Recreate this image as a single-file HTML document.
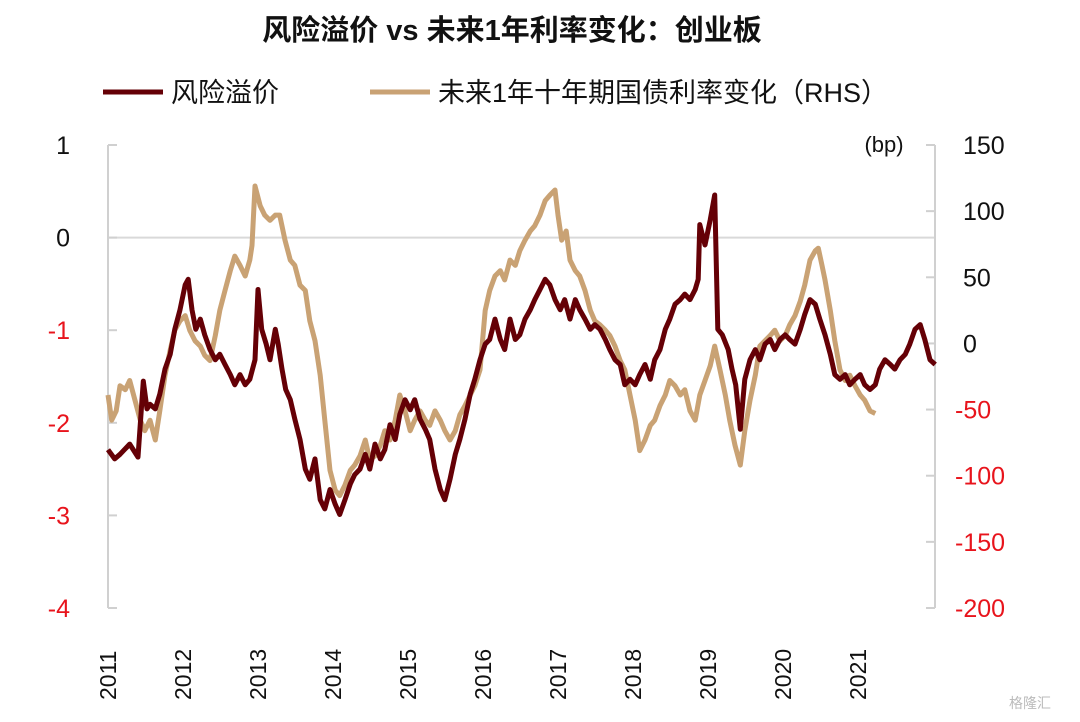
<!DOCTYPE html>
<html><head><meta charset="utf-8">
<style>
html,body{margin:0;padding:0;background:#fff;}
body{width:1080px;height:717px;overflow:hidden;font-family:"Liberation Sans","Noto Sans CJK SC",sans-serif;}
svg text{font-family:"Liberation Sans","Noto Sans CJK SC",sans-serif;}
</style></head>
<body>
<svg id="chart" width="1080" height="717" viewBox="0 0 1080 717" xmlns="http://www.w3.org/2000/svg">
<text x="512" y="40" text-anchor="middle" font-size="29" font-weight="bold" fill="#111">风险溢价 vs 未来1年利率变化：创业板</text>
<g>
<line x1="103" y1="92" x2="163" y2="92" stroke="#650006" stroke-width="5"/>
<text x="171" y="102" font-size="27" fill="#111">风险溢价</text>
<line x1="370" y1="92" x2="430" y2="92" stroke="#C9A274" stroke-width="5"/>
<text x="438" y="102" font-size="27" fill="#111">未来1年十年期国债利率变化（RHS）</text>
</g>
<text x="884" y="152" text-anchor="middle" font-size="22" fill="#111">(bp)</text>
<g id="axes"></g>
<g id="series"></g>
<text x="1030" y="708" text-anchor="middle" font-size="14" fill="#bbb">格隆汇</text>
</svg>
<script>
const leftTicks=[1,0,-1,-2,-3,-4];
const rightTicks=[150,100,50,0,-50,-100,-150,-200];
const yearLabels=[2011,2012,2013,2014,2015,2016,2017,2018,2019,2020,2021];
const riskDates=[2011.00,2011.09,2011.16,2011.29,2011.40,2011.47,2011.52,2011.56,2011.63,2011.69,2011.76,2011.83,2011.89,2011.96,2012.03,2012.07,2012.12,2012.17,2012.23,2012.29,2012.36,2012.43,2012.49,2012.56,2012.63,2012.69,2012.76,2012.83,2012.89,2012.96,2013.00,2013.05,2013.11,2013.16,2013.23,2013.27,2013.32,2013.37,2013.43,2013.49,2013.56,2013.63,2013.69,2013.76,2013.83,2013.89,2013.96,2014.03,2014.09,2014.16,2014.23,2014.29,2014.36,2014.43,2014.49,2014.56,2014.63,2014.69,2014.76,2014.83,2014.89,2014.96,2015.03,2015.09,2015.16,2015.23,2015.29,2015.36,2015.43,2015.49,2015.56,2015.63,2015.69,2015.76,2015.83,2015.89,2015.96,2016.03,2016.09,2016.16,2016.23,2016.29,2016.36,2016.43,2016.49,2016.56,2016.63,2016.69,2016.76,2016.83,2016.89,2016.96,2017.03,2017.09,2017.16,2017.23,2017.29,2017.36,2017.43,2017.49,2017.56,2017.63,2017.69,2017.76,2017.83,2017.89,2017.96,2018.03,2018.09,2018.16,2018.23,2018.29,2018.36,2018.43,2018.49,2018.56,2018.63,2018.69,2018.76,2018.83,2018.87,2018.89,2018.96,2019.03,2019.09,2019.13,2019.19,2019.27,2019.32,2019.37,2019.43,2019.49,2019.56,2019.63,2019.69,2019.76,2019.83,2019.89,2019.96,2020.03,2020.09,2020.16,2020.23,2020.29,2020.36,2020.43,2020.49,2020.56,2020.63,2020.69,2020.76,2020.83,2020.89,2020.96,2021.03,2021.09,2021.16,2021.23,2021.29,2021.36,2021.43,2021.49,2021.56,2021.63,2021.69,2021.76,2021.83,2021.89,2021.96,2022.03];
const riskValues=[-2.29,-2.39,-2.34,-2.23,-2.37,-1.55,-1.85,-1.80,-1.85,-1.69,-1.42,-1.26,-0.99,-0.78,-0.51,-0.45,-0.78,-0.99,-0.88,-1.05,-1.21,-1.32,-1.26,-1.37,-1.48,-1.59,-1.48,-1.59,-1.53,-1.32,-0.56,-0.99,-1.15,-1.32,-0.99,-1.15,-1.42,-1.64,-1.75,-1.96,-2.18,-2.50,-2.61,-2.39,-2.83,-2.93,-2.72,-2.88,-2.99,-2.83,-2.66,-2.56,-2.50,-2.34,-2.50,-2.23,-2.39,-2.29,-2.02,-2.18,-1.91,-1.75,-1.86,-1.75,-1.96,-2.07,-2.18,-2.50,-2.72,-2.83,-2.61,-2.34,-2.18,-1.96,-1.69,-1.53,-1.32,-1.15,-1.10,-0.88,-1.10,-1.21,-0.88,-1.10,-1.05,-0.88,-0.78,-0.67,-0.56,-0.45,-0.51,-0.67,-0.78,-0.67,-0.88,-0.67,-0.78,-0.88,-0.99,-0.94,-0.99,-1.10,-1.21,-1.32,-1.37,-1.59,-1.53,-1.59,-1.48,-1.37,-1.53,-1.32,-1.21,-0.99,-0.88,-0.72,-0.67,-0.61,-0.67,-0.56,-0.45,0.14,-0.08,0.19,0.46,-0.99,-1.05,-1.21,-1.42,-1.59,-2.07,-1.53,-1.32,-1.21,-1.32,-1.15,-1.10,-1.21,-1.10,-1.05,-1.10,-1.15,-0.99,-0.83,-0.67,-0.72,-0.88,-1.05,-1.26,-1.48,-1.53,-1.48,-1.59,-1.53,-1.48,-1.59,-1.64,-1.59,-1.42,-1.32,-1.37,-1.42,-1.32,-1.26,-1.15,-0.99,-0.94,-1.10,-1.32,-1.37];
const yieldDates=[2011.00,2011.05,2011.11,2011.16,2011.23,2011.29,2011.36,2011.43,2011.49,2011.56,2011.63,2011.69,2011.76,2011.83,2011.89,2011.96,2012.03,2012.09,2012.16,2012.23,2012.29,2012.36,2012.43,2012.49,2012.56,2012.63,2012.69,2012.76,2012.83,2012.89,2012.92,2012.96,2013.03,2013.09,2013.16,2013.23,2013.29,2013.36,2013.43,2013.49,2013.56,2013.63,2013.69,2013.76,2013.83,2013.89,2013.96,2014.03,2014.09,2014.16,2014.23,2014.29,2014.36,2014.43,2014.49,2014.56,2014.63,2014.69,2014.76,2014.83,2014.89,2014.96,2015.03,2015.09,2015.16,2015.23,2015.29,2015.36,2015.43,2015.49,2015.56,2015.63,2015.69,2015.76,2015.83,2015.89,2015.96,2016.03,2016.09,2016.16,2016.23,2016.29,2016.36,2016.43,2016.49,2016.56,2016.63,2016.69,2016.76,2016.83,2016.89,2016.96,2017.00,2017.05,2017.11,2017.16,2017.23,2017.29,2017.36,2017.43,2017.49,2017.56,2017.63,2017.69,2017.76,2017.83,2017.89,2017.96,2018.03,2018.09,2018.16,2018.23,2018.29,2018.36,2018.43,2018.49,2018.56,2018.63,2018.69,2018.76,2018.83,2018.89,2018.96,2019.03,2019.09,2019.16,2019.23,2019.29,2019.36,2019.43,2019.49,2019.56,2019.63,2019.69,2019.76,2019.83,2019.89,2019.96,2020.03,2020.09,2020.16,2020.23,2020.29,2020.36,2020.43,2020.47,2020.52,2020.56,2020.63,2020.69,2020.76,2020.83,2020.89,2020.96,2021.03,2021.09,2021.16,2021.23];
const yieldValues=[-39,-58,-51,-32,-35,-28,-43,-58,-66,-58,-73,-51,-24,-5,10,17,21,10,2,-2,-9,-13,6,25,40,55,66,59,51,63,74,119,104,97,93,97,97,78,63,59,44,40,17,2,-24,-58,-96,-111,-115,-107,-96,-92,-85,-73,-88,-85,-77,-66,-73,-58,-39,-51,-66,-58,-51,-58,-62,-51,-58,-66,-73,-66,-54,-47,-39,-32,-20,25,40,51,55,48,63,59,70,78,85,89,97,108,112,116,97,78,85,63,55,51,40,25,17,14,10,6,-2,-13,-20,-39,-58,-81,-73,-62,-58,-47,-39,-28,-32,-39,-35,-51,-58,-39,-28,-17,-2,-20,-39,-58,-77,-92,-66,-43,-24,-2,2,6,10,2,6,14,21,32,44,63,70,72,59,48,25,2,-20,-28,-24,-32,-39,-43,-51,-53];

const NS='http://www.w3.org/2000/svg';
const X0=108,X1=935,T0=2011,PXY=75;
const YT=145,YB=608;
function xScale(d){return X0+(d-T0)*PXY;}
function yLeft(v){return YT+(1-v)/5*(YB-YT);}
function yRight(v){return YT+(150-v)/350*(YB-YT);}
function mk(tag,attrs,parent){const e=document.createElementNS(NS,tag);for(const k in attrs)e.setAttribute(k,attrs[k]);parent.appendChild(e);return e;}
const axes=document.getElementById('axes');
const series=document.getElementById('series');

const grid=mk('line',{x1:X0,x2:X1,y1:yLeft(0),y2:yLeft(0),stroke:'#d9d9d9','stroke-width':2},axes);


const la=mk('line',{x1:X0,x2:X0,y1:YT,y2:YB,stroke:'#d0d0d0','stroke-width':2},axes);


const ra=mk('line',{x1:X1,x2:X1,y1:YT,y2:YB,stroke:'#d0d0d0','stroke-width':2},axes);



leftTicks.forEach(v=>{
  const y=yLeft(v);
  const t=mk('line',{x1:X0,x2:X0+9,y1:y,y2:y,stroke:'#d0d0d0','stroke-width':2},axes);
  
  
  const l=mk('text',{x:70,y:y+9,'text-anchor':'end','font-size':25,fill:v<0?'#e8141c':'#111'},axes);
  l.textContent=String(v);
  
  
});
rightTicks.forEach(v=>{
  const y=yRight(v);
  const t=mk('line',{x1:X1-9,x2:X1,y1:y,y2:y,stroke:'#d0d0d0','stroke-width':2},axes);
  
  
  const l=mk('text',{x:v<0?955:963,y:y+9,'text-anchor':'start','font-size':25,fill:v<0?'#e8141c':'#111'},axes);
  l.textContent=String(v);
  
  
});
yearLabels.forEach(yr=>{
  const x=xScale(yr);
  const l=mk('text',{x:0,y:0,'text-anchor':'start','font-size':23,fill:'#111',transform:`translate(${x+8},700) rotate(-90)`},axes);
  l.textContent=String(yr);
  
  
});

const yp=yieldDates.map((d,i)=>xScale(d).toFixed(1)+','+yRight(yieldValues[i]).toFixed(1)).join(' ');
const yl=mk('polyline',{points:yp,fill:'none',stroke:'#C9A274','stroke-width':5,'stroke-linejoin':'round'},series);


const rp=riskDates.map((d,i)=>xScale(d).toFixed(1)+','+yLeft(riskValues[i]).toFixed(1)).join(' ');
const rl=mk('polyline',{points:rp,fill:'none',stroke:'#650006','stroke-width':5,'stroke-linejoin':'round'},series);


</script>
</body></html>
